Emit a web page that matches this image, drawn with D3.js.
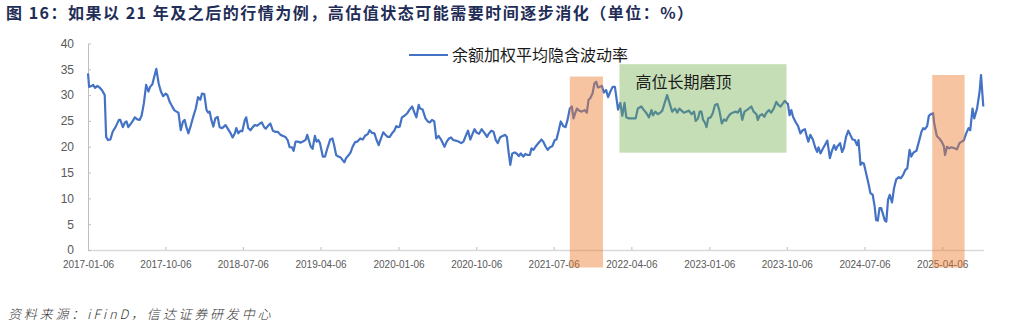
<!DOCTYPE html>
<html>
<head>
<meta charset="utf-8">
<script src="https://cdn.jsdelivr.net/npm/d3@7"></script>
<style>
  body { margin: 0; background: #fff; }
  .tick text { font-family: "Liberation Sans", Arial, sans-serif; fill: #595959; }
</style>
</head>
<body>
<div id="chart"></div>
<script>
// weekly series
var dates = [
"2017-01-06","2017-01-10","2017-01-20","2017-01-24","2017-01-31","2017-02-08","2017-02-15","2017-02-24","2017-03-06","2017-03-11",
"2017-03-18","2017-03-26","2017-04-03","2017-04-13","2017-04-25","2017-04-30","2017-05-09","2017-05-16","2017-05-22","2017-05-28",
"2017-06-05","2017-06-13","2017-06-20","2017-06-29","2017-07-07","2017-07-14","2017-07-22","2017-07-30","2017-08-07","2017-08-13",
"2017-08-21","2017-08-26","2017-09-04","2017-09-12","2017-09-20","2017-09-28","2017-10-07","2017-10-13","2017-10-21","2017-10-30",
"2017-11-06","2017-11-14","2017-11-21","2017-11-29","2017-12-07","2017-12-13","2017-12-19","2017-12-26","2018-01-04","2018-01-12",
"2018-01-21","2018-01-29","2018-02-06","2018-02-12","2018-02-20","2018-02-28","2018-03-06","2018-03-11","2018-03-17","2018-03-24",
"2018-03-31","2018-04-08","2018-04-15","2018-04-24","2018-05-06","2018-05-15","2018-05-23","2018-05-31","2018-06-08","2018-06-13",
"2018-06-20","2018-06-28","2018-07-04","2018-07-13","2018-07-18","2018-07-25","2018-08-02","2018-08-10","2018-08-17","2018-08-26",
"2018-09-04","2018-09-11","2018-09-19","2018-09-25","2018-10-05","2018-10-11","2018-10-20","2018-10-28","2018-11-06","2018-11-16",
"2018-11-25","2018-12-03","2018-12-11","2018-12-18","2018-12-26","2019-01-01","2019-01-08","2019-01-16","2019-01-25","2019-02-03",
"2019-02-13","2019-02-18","2019-02-24","2019-03-02","2019-03-09","2019-03-17","2019-03-23","2019-03-29","2019-04-04","2019-04-14",
"2019-04-22","2019-04-30","2019-05-10","2019-05-18","2019-05-24","2019-05-31","2019-06-08","2019-06-16","2019-06-23","2019-06-29",
"2019-07-05","2019-07-13","2019-07-21","2019-07-28","2019-08-06","2019-08-14","2019-08-24","2019-09-02","2019-09-11","2019-09-19",
"2019-09-26","2019-10-04","2019-10-13","2019-10-20","2019-10-28","2019-11-03","2019-11-13","2019-11-21","2019-11-29","2019-12-06",
"2019-12-14","2019-12-22","2019-12-29","2020-01-03","2020-01-10","2020-01-18","2020-01-27","2020-02-06","2020-02-14","2020-02-23",
"2020-03-02","2020-03-09","2020-03-17","2020-03-22","2020-03-31","2020-04-10","2020-04-18","2020-04-25","2020-05-03","2020-05-11",
"2020-05-18","2020-05-26","2020-06-04","2020-06-16","2020-06-24","2020-07-02","2020-07-09","2020-07-17","2020-07-25","2020-08-04",
"2020-08-14","2020-08-22","2020-08-30","2020-09-07","2020-09-15","2020-09-23","2020-09-30","2020-10-08","2020-10-16","2020-10-25",
"2020-11-05","2020-11-13","2020-11-19","2020-11-28","2020-12-06","2020-12-14","2020-12-21","2020-12-29","2021-01-07","2021-01-16",
"2021-01-22","2021-01-28","2021-02-03","2021-02-10","2021-02-19","2021-02-27","2021-03-05","2021-03-12","2021-03-21","2021-03-28",
"2021-04-05","2021-04-13","2021-04-19","2021-04-26","2021-05-03","2021-05-10","2021-05-18","2021-05-24","2021-05-30","2021-06-08",
"2021-06-15","2021-06-23","2021-07-01","2021-07-10","2021-07-16","2021-07-24","2021-07-31","2021-08-09","2021-08-17","2021-08-24",
"2021-09-01","2021-09-08","2021-09-14","2021-09-20","2021-09-26","2021-10-04","2021-10-13","2021-10-23","2021-10-31","2021-11-06",
"2021-11-12","2021-11-20","2021-11-27","2021-12-03","2021-12-09","2021-12-16","2021-12-23","2021-12-30","2022-01-07","2022-01-14",
"2022-01-22","2022-01-30","2022-02-07","2022-02-11","2022-02-18","2022-02-26","2022-03-05","2022-03-13","2022-03-19","2022-03-28",
"2022-04-12","2022-04-21","2022-04-29","2022-05-11","2022-05-19","2022-05-28","2022-06-07","2022-06-16","2022-06-21","2022-06-30",
"2022-07-08","2022-07-17","2022-07-24","2022-08-01","2022-08-10","2022-08-19","2022-08-28","2022-09-07","2022-09-15","2022-09-22",
"2022-09-30","2022-10-08","2022-10-17","2022-10-26","2022-11-04","2022-11-13","2022-11-19","2022-11-27","2022-12-03","2022-12-09",
"2022-12-15","2022-12-21","2022-12-27","2023-01-02","2023-01-11","2023-01-18","2023-01-26","2023-02-03","2023-02-10","2023-02-19",
"2023-02-27","2023-03-06","2023-03-12","2023-03-20","2023-03-29","2023-04-09","2023-04-16","2023-04-25","2023-05-02","2023-05-10",
"2023-05-18","2023-05-25","2023-06-03","2023-06-11","2023-06-21","2023-06-26","2023-07-02","2023-07-11","2023-07-19","2023-07-25",
"2023-08-04","2023-08-12","2023-08-21","2023-08-30","2023-09-06","2023-09-14","2023-09-21","2023-09-29","2023-10-05","2023-10-10",
"2023-10-16","2023-10-22","2023-10-28","2023-11-07","2023-11-15","2023-11-23","2023-12-01","2023-12-09","2023-12-16","2023-12-21",
"2023-12-28","2024-01-06","2024-01-14","2024-01-21","2024-01-26","2024-02-02","2024-02-11","2024-02-19","2024-02-26","2024-03-01",
"2024-03-06","2024-03-13","2024-03-21","2024-03-27","2024-04-02","2024-04-11","2024-04-18","2024-04-24","2024-05-02","2024-05-10",
"2024-05-17","2024-05-25","2024-06-02","2024-06-10","2024-06-15","2024-06-22","2024-06-28","2024-07-04","2024-07-12","2024-07-20",
"2024-07-27","2024-08-04","2024-08-11","2024-08-16","2024-08-22","2024-08-28","2024-09-03","2024-09-10","2024-09-16","2024-09-21",
"2024-09-27","2024-10-03","2024-10-11","2024-10-18","2024-10-26","2024-11-04","2024-11-11","2024-11-19","2024-11-27","2024-12-04",
"2024-12-12","2024-12-18","2024-12-26","2025-01-05","2025-01-14","2025-01-23","2025-01-29","2025-02-04","2025-02-12","2025-02-18",
"2025-02-25","2025-03-05","2025-03-09","2025-03-18","2025-03-27","2025-04-04","2025-04-12","2025-04-16","2025-04-23","2025-05-01",
"2025-05-09","2025-05-19","2025-05-28","2025-06-06","2025-06-14","2025-06-21","2025-06-29","2025-07-08","2025-07-14","2025-07-22",
"2025-07-28","2025-08-07","2025-08-16","2025-08-21","2025-08-29"];

var values = [
34.2,31.6,31.8,32.0,31.4,31.8,31.5,31.0,30.0,21.9,
21.3,21.4,22.9,23.8,25.2,25.2,23.8,24.7,24.9,23.8,
24.4,25.0,25.7,25.3,25.2,26.0,28.4,32.0,30.7,31.6,
32.1,33.2,35.1,32.3,30.7,29.8,30.3,30.0,28.7,27.8,
27.1,26.8,26.6,23.2,24.9,25.2,23.8,22.6,24.2,25.8,
27.4,29.6,29.1,30.3,30.2,27.1,26.6,26.8,25.2,23.9,
25.5,25.8,23.8,23.6,24.2,23.4,22.7,21.8,22.6,23.6,
22.6,23.1,23.0,25.2,25.7,23.6,23.2,23.8,24.2,24.1,
24.5,24.7,23.8,23.5,24.2,24.5,23.1,22.9,22.9,22.3,
22.1,21.9,21.3,19.9,19.9,19.2,21.0,21.0,20.8,21.0,
21.4,22.3,21.2,20.1,19.6,22.1,21.0,21.3,20.7,18.1,
18.1,19.7,21.4,21.6,20.3,18.4,18.1,17.9,17.4,17.0,
17.8,18.3,18.9,20.0,20.9,21.0,21.6,21.4,22.2,22.4,
23.2,22.7,22.6,21.4,20.3,21.3,22.8,22.3,21.9,21.9,
22.6,23.1,24.0,23.8,23.9,25.7,26.0,26.5,27.2,27.8,
26.6,25.7,28.1,27.4,27.2,25.5,24.9,24.7,25.2,24.9,
21.6,22.1,21.4,20.0,21.0,21.6,21.8,21.3,21.2,21.0,
20.7,21.0,22.1,23.1,21.4,22.5,23.4,22.7,22.5,23.4,
22.6,21.9,22.5,23.1,22.9,21.3,20.7,21.8,22.1,22.3,
21.9,19.0,16.5,18.7,18.9,18.6,18.2,18.7,18.1,18.6,
18.4,18.4,19.7,19.4,20.0,20.5,21.0,21.4,21.0,20.0,
19.4,19.9,20.1,21.3,21.4,23.2,24.9,24.0,23.8,25.2,
27.4,27.8,25.5,26.5,27.4,27.0,26.8,27.1,26.6,29.1,
29.4,30.3,32.3,32.6,31.5,31.6,31.8,30.5,31.0,29.6,
30.7,31.6,31.6,30.0,27.2,28.5,26.0,28.5,25.7,25.5,
25.5,25.5,27.4,27.8,27.2,26.6,25.7,27.1,26.1,26.8,
26.3,26.6,27.0,28.4,30.0,28.4,26.8,27.4,26.6,27.4,
27.0,26.6,26.8,27.0,26.3,26.8,25.0,25.5,26.8,26.8,
25.2,24.7,23.8,25.5,25.7,26.5,28.1,28.3,27.1,24.5,
25.3,25.0,25.7,26.3,26.6,26.8,26.6,27.4,25.2,26.8,
27.1,27.4,27.8,26.8,26.3,25.2,26.0,26.3,25.8,26.5,
27.1,26.6,27.4,28.7,28.1,27.8,28.3,28.9,28.5,28.3,
26.1,27.1,25.8,24.7,24.0,22.6,23.2,23.4,21.9,21.0,
22.3,21.4,19.9,19.0,19.9,18.7,19.7,20.5,21.2,19.7,
17.8,19.2,20.3,19.4,20.1,20.7,19.0,19.7,21.9,23.1,
22.3,21.4,21.3,20.3,21.3,16.5,16.9,16.7,14.8,12.9,
11.0,10.7,8.4,5.8,5.7,8.1,8.1,6.8,5.7,5.5,
9.7,10.7,9.2,11.9,13.7,14.1,13.9,14.5,15.5,15.8,
19.4,18.1,18.9,19.2,21.0,22.9,23.6,23.4,24.0,26.0,
26.3,26.5,24.5,22.1,21.6,21.0,20.1,18.4,20.0,19.7,
19.9,19.7,19.5,20.7,21.0,21.2,22.5,23.6,23.2,27.4,
25.5,27.4,30.7,33.9,27.8];

var seriesName = "余额加权平均隐含波动率";
var tickDates = ["2017-01-06","2017-10-06","2018-07-06","2019-04-06","2020-01-06","2020-10-06",
                 "2021-07-06","2022-04-06","2023-01-06","2023-10-06","2024-07-06","2025-04-06"];
var yTicks = [0, 5, 10, 15, 20, 25, 30, 35, 40];
var xStart = "2017-01-06", xEnd = "2025-08-29";

// highlighted periods
var boxStart  = ["2021-09-01", "2022-02-23", "2025-03-02"];
var boxEnd    = ["2021-12-27", "2023-10-05", "2025-06-24"];
var boxTop    = [33.6, 36.0, 33.9];
var boxBottom = [-3.4, 18.85, -3.4];
var boxKind   = ["orange", "green", "orange"];
var boxLabel  = ["", "高位长期磨顶", ""];

var title = "图 16：如果以 21 年及之后的行情为例，高估值状态可能需要时间逐步消化（单位：%）";
var source = "资料来源：iFinD，信达证券研发中心";

var W = 1031, H = 330;
var margin = {top: 43.5, right: 47.7, bottom: 80, left: 88};
var width = W - margin.left - margin.right;
var height = H - margin.top - margin.bottom;

var parse = d3.timeParse("%Y-%m-%d");
var fmt = d3.timeFormat("%Y-%m-%d");

var data = dates.map(function(d, i) { return {date: parse(d), value: values[i]}; });

var x = d3.scaleTime().domain([parse(xStart), parse(xEnd)]).range([0, width]);
var y = d3.scaleLinear().domain([0, 40]).range([height, 0]);

var svg = d3.select("#chart").append("svg")
  .attr("width", W)
  .attr("height", H);

// title
svg.append("text")
  .attr("x", 6)
  .attr("y", 19)
  .style("font-family", "'Noto Sans CJK SC', sans-serif")
  .style("font-size", "16px")
  .style("font-weight", "bold")
  .style("letter-spacing", "1.5px")
  .style("fill", "#1f2d57")
  .text(title);

// source line
svg.append("text")
  .attr("x", 8)
  .attr("y", 319)
  .style("font-family", "'Noto Sans CJK SC', sans-serif")
  .style("font-size", "13px")
  .style("font-style", "italic")
  .style("font-weight", "300")
  .style("letter-spacing", "2.8px")
  .style("fill", "#333")
  .text(source);

var g = svg.append("g")
  .attr("transform", "translate(" + margin.left + "," + margin.top + ")");

// X axis
var xAxis = d3.axisBottom(x)
  .tickValues(tickDates.map(parse))
  .tickFormat(fmt)
  .tickSizeInner(-3)
  .tickSizeOuter(0)
  .tickPadding(11);

var gx = g.append("g")
  .attr("transform", "translate(0," + height + ")")
  .call(xAxis);
gx.select(".domain").attr("stroke", "#d9d9d9").attr("stroke-width", 1.5);
gx.selectAll(".tick line").attr("stroke", "#bfbfbf");
gx.selectAll(".tick text").style("font-size", "10px");

// Y axis
var yAxis = d3.axisLeft(y)
  .tickValues(yTicks)
  .tickSizeInner(-3)
  .tickSizeOuter(0)
  .tickPadding(14);

var gy = g.append("g").call(yAxis);
gy.select(".domain").attr("stroke", "#bfbfbf");
gy.selectAll(".tick line").attr("stroke", "#bfbfbf");
gy.selectAll(".tick text").style("font-size", "12px");

// the series
var line = d3.line()
  .x(function(d) { return x(d.date); })
  .y(function(d) { return y(d.value); });

g.append("path")
  .datum(data)
  .attr("fill", "none")
  .attr("stroke", "#4472c4")
  .attr("stroke-width", 2.2)
  .attr("stroke-linejoin", "round")
  .attr("d", line);

// shaded boxes on top of the line
var boxes = boxStart.map(function(s, i) {
  return {s: parse(s), e: parse(boxEnd[i]), top: boxTop[i], bottom: boxBottom[i], kind: boxKind[i], label: boxLabel[i]};
});

g.selectAll("rect.box")
  .data(boxes)
  .enter()
  .append("rect")
  .attr("class", "box")
  .attr("x", function(d) { return x(d.s); })
  .attr("y", function(d) { return y(d.top); })
  .attr("width", function(d) { return x(d.e) - x(d.s); })
  .attr("height", function(d) { return y(d.bottom) - y(d.top); })
  .attr("fill", function(d) { return d.kind == "orange" ? "#ed7d31" : "#70ad47"; })
  .attr("fill-opacity", function(d) { return d.kind == "orange" ? 0.45 : 0.4; });

g.selectAll("text.boxlabel")
  .data(boxes.filter(function(d) { return d.label; }))
  .enter()
  .append("text")
  .attr("class", "boxlabel")
  .attr("x", function(d) { return x(d.s) + 16; })
  .attr("y", function(d) { return y(d.top) + 24; })
  .style("font-family", "'Noto Sans CJK SC', sans-serif")
  .style("font-size", "16px")
  .style("fill", "#1a1a1a")
  .text(function(d) { return d.label; });

// legend
var legend = svg.append("g").attr("transform", "translate(409,55)");
legend.append("line")
  .attr("x1", 0).attr("x2", 39)
  .attr("y1", 0).attr("y2", 0)
  .attr("stroke", "#4472c4")
  .attr("stroke-width", 2.2);
legend.append("text")
  .attr("x", 43)
  .attr("y", 6)
  .style("font-family", "'Noto Sans CJK SC', sans-serif")
  .style("font-size", "16px")
  .style("fill", "#1a1a1a")
  .text(seriesName);
</script>
</body>
</html>
